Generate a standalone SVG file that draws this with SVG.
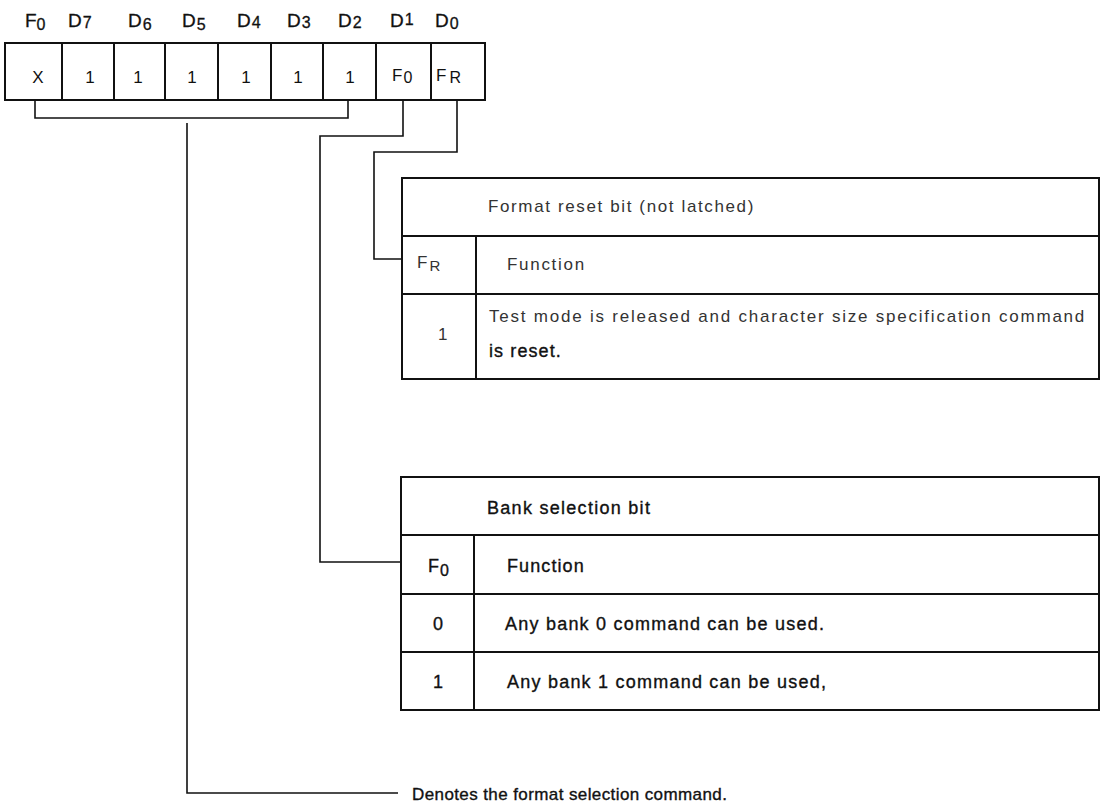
<svg xmlns="http://www.w3.org/2000/svg" width="1106" height="809" viewBox="0 0 1106 809">
<style>
text{font-family:"Liberation Sans",Arial,sans-serif;fill:#111}
.hd{font-size:19px;stroke:#111;stroke-width:0.3}
.sub{font-size:16px}
.cell{font-size:17px}
.thin{font-size:17px;letter-spacing:1.7px;fill:#333}
.bk{font-size:18px;letter-spacing:1.1px;stroke:#111;stroke-width:0.35}
.nosp{letter-spacing:0}
.note{font-size:17px;letter-spacing:0.4px}
.box{fill:#fff;stroke:#111;stroke-width:2}
.ln{fill:none;stroke:#111;stroke-width:2}
.conn{fill:none;stroke:#111;stroke-width:1.6}
</style>
<rect width="1106" height="809" fill="#fff"/>

<g id="bit-labels">
<text class="hd" x="25" y="27">F<tspan class="sub" dy="3">0</tspan></text>
<text class="hd" x="68" y="27">D<tspan class="sub" dx="1" dy="1">7</tspan></text>
<text class="hd" x="128" y="27">D<tspan class="sub" dx="1" dy="3">6</tspan></text>
<text class="hd" x="182" y="27">D<tspan class="sub" dx="1" dy="3">5</tspan></text>
<text class="hd" x="237" y="27">D<tspan class="sub" dx="1" dy="1">4</tspan></text>
<text class="hd" x="287" y="27">D<tspan class="sub" dx="1" dy="1">3</tspan></text>
<text class="hd" x="338" y="27">D<tspan class="sub" dx="1" dy="1">2</tspan></text>
<text class="hd" x="390" y="27">D<tspan class="sub" dx="1" dy="-2">1</tspan></text>
<text class="hd" x="435" y="27">D<tspan class="sub" dx="1" dy="2">0</tspan></text>
</g>

<g id="register">
<rect class="box" x="5" y="43" width="480" height="57"/>
<path class="ln" d="M62,43V100M114,43V100M165,43V100M218,43V100M271,43V100M323,43V100M376,43V100M431,43V100"/>
<text class="cell" x="38" y="83" text-anchor="middle">X</text>
<text class="cell" x="90" y="83" text-anchor="middle">1</text>
<text class="cell" x="138" y="83" text-anchor="middle">1</text>
<text class="cell" x="192" y="83" text-anchor="middle">1</text>
<text class="cell" x="246" y="83" text-anchor="middle">1</text>
<text class="cell" x="298" y="83" text-anchor="middle">1</text>
<text class="cell" x="350" y="83" text-anchor="middle">1</text>
<text class="cell" x="392" y="81" font-size="19">F<tspan font-size="16" dx="1" dy="2">0</tspan></text>
<text class="cell" x="436" y="81" font-size="19">F<tspan font-size="16" dx="3" dy="2">R</tspan></text>
</g>

<g id="connectors">
<path class="conn" d="M35,100V118H348V100"/>
<path class="conn" d="M187,123V793H398"/>
<path class="conn" d="M403,100V136H320V562H401"/>
<path class="conn" d="M457,100V152H374V259H402"/>
</g>

<g id="format-reset-table">
<rect class="box" x="402" y="178" width="697" height="201"/>
<path class="ln" d="M402,236H1099M402,294H1099M476,236V379"/>
<text class="thin" x="488" y="212" textLength="267" lengthAdjust="spacing">Format reset bit (not latched)</text>
<text class="thin nosp" x="417" y="268">F<tspan font-size="15" dx="2" dy="3">R</tspan></text>
<text class="thin" x="507" y="270">Function</text>
<text class="thin nosp" x="438" y="340">1</text>
<text class="thin" x="489" y="322" textLength="597" lengthAdjust="spacing">Test mode is released and character size specification command</text>
<text class="bk" x="489" y="357" font-size="17">is reset.</text>
</g>

<g id="bank-table">
<rect class="box" x="401" y="477" width="698" height="233"/>
<path class="ln" d="M401,535H1099M401,594H1099M401,652H1099M474,535V710"/>
<text class="bk" x="487" y="514" textLength="164" lengthAdjust="spacing">Bank selection bit</text>
<text class="bk nosp" x="428" y="572">F<tspan font-size="16" dx="1" dy="4">0</tspan></text>
<text class="bk" x="507" y="572">Function</text>
<text class="bk" x="433" y="630">0</text>
<text class="bk" x="505" y="630" textLength="320" lengthAdjust="spacing">Any bank 0 command can be used.</text>
<text class="bk" x="433" y="688">1</text>
<text class="bk" x="507" y="688" textLength="320" lengthAdjust="spacing">Any bank 1 command can be used,</text>
</g>

<g id="format-note">
<text class="bk note" x="412" y="800">Denotes the format selection command.</text>
</g>
</svg>
